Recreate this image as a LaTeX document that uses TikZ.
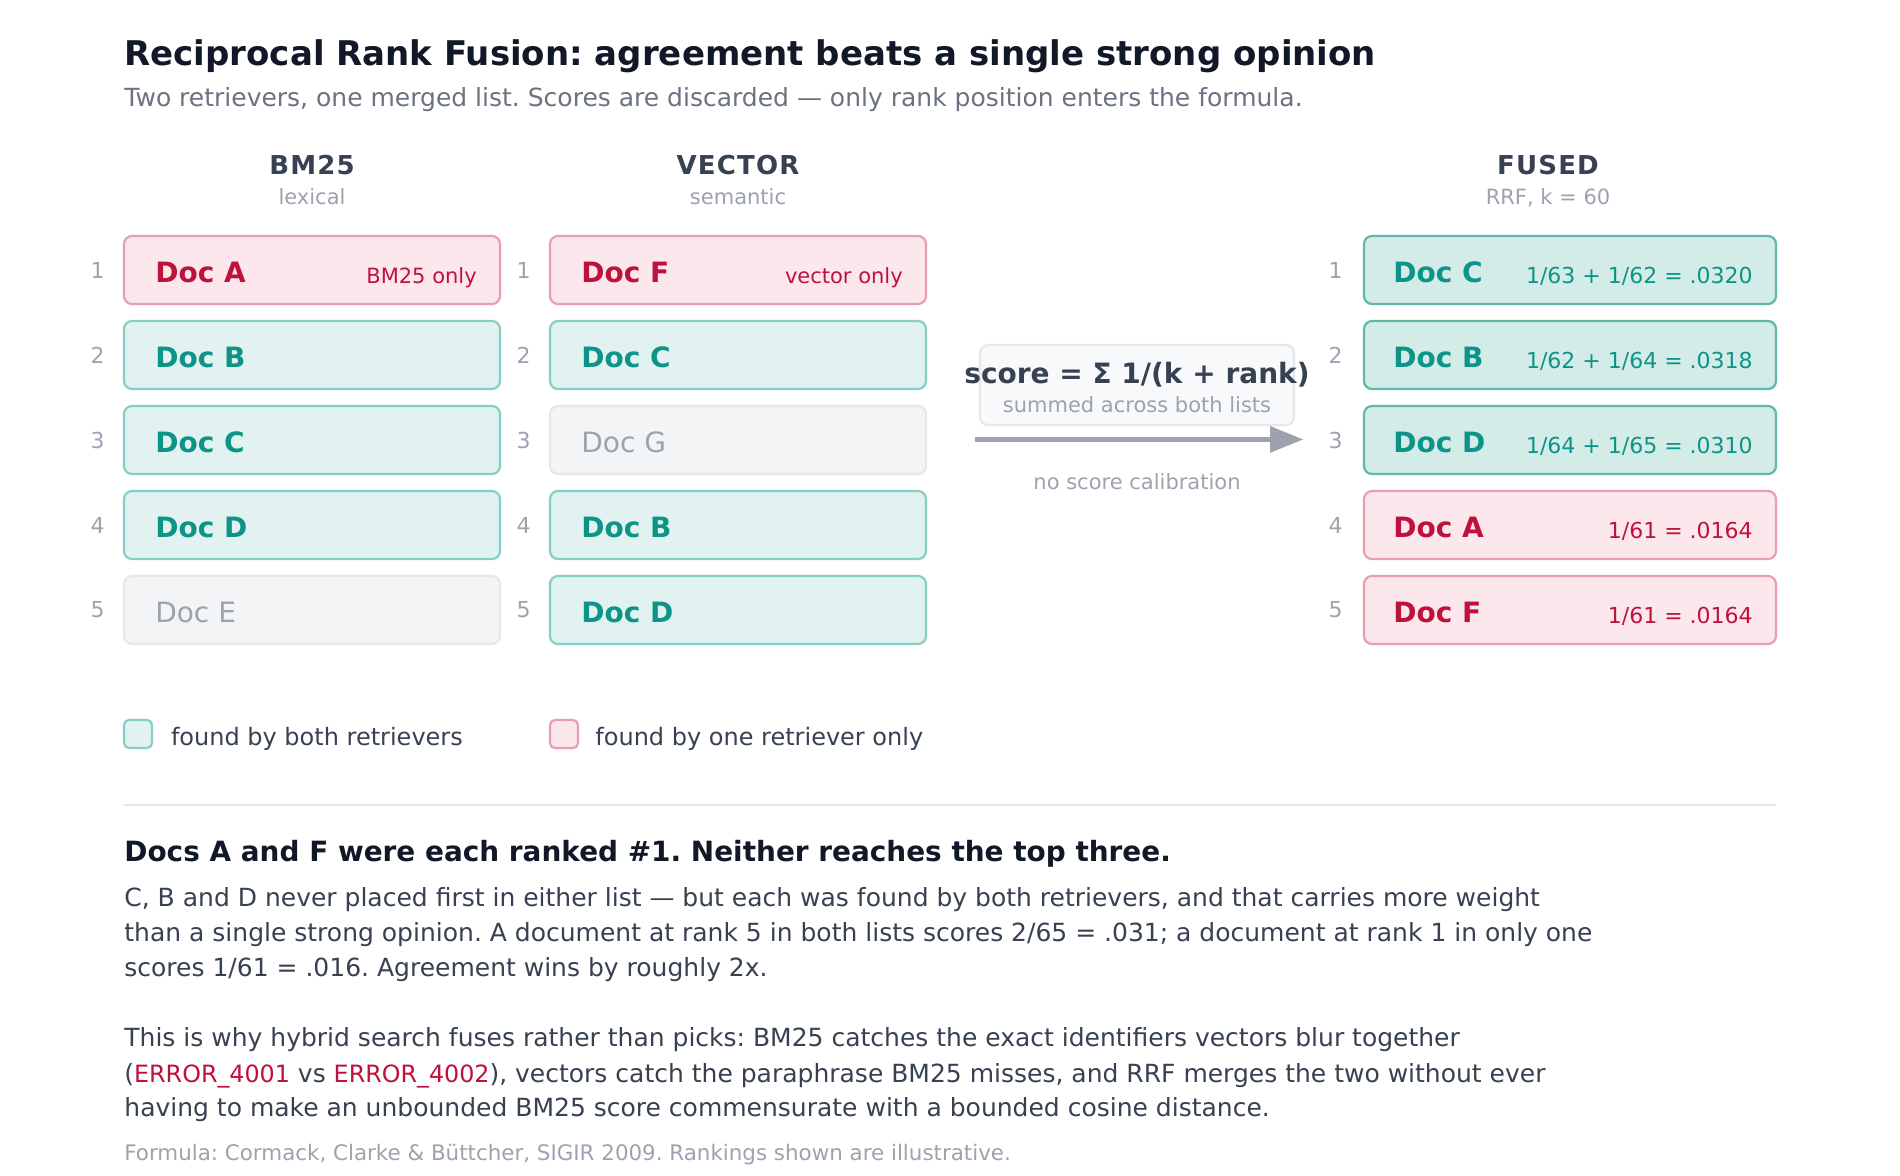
\documentclass[tikz,border=0pt]{standalone}
\usepackage{fontspec}
\setmainfont{DejaVu Sans}
\newfontfamily\headfont[LetterSpace=4.5]{DejaVu Sans}
\usetikzlibrary{positioning,arrows.meta}
\definecolor{ink}{HTML}{111827}
\definecolor{slate}{HTML}{374151}
\definecolor{mute}{HTML}{6B7280}
\definecolor{faint}{HTML}{9CA3AF}
\definecolor{rosetxt}{HTML}{BE123C}
\definecolor{rosefill}{HTML}{FCE7EC}
\definecolor{roseline}{HTML}{E8A0B0}
\definecolor{tealtxt}{HTML}{0D9488}
\definecolor{tealfill}{HTML}{E1F2F0}
\definecolor{tealline}{HTML}{86CFC4}
\definecolor{fusfill}{HTML}{D3ECE8}
\definecolor{fusline}{HTML}{5FB8AA}
\definecolor{greyfill}{HTML}{F3F4F6}
\definecolor{greyline}{HTML}{E5E7EB}
\definecolor{boxfill}{HTML}{F8F9FA}
\newcommand\fsz[2]{\fontsize{#1}{#2}\selectfont}
\newcommand\errcode[1]{{\color{rosetxt}\fsz{11.9}{15}#1}}
\frenchspacing
\begin{document}
\begin{tikzpicture}[x=1pt,y=-1pt,
 docbox/.style={shape=rectangle,rounded corners=4pt,line width=1.1pt,minimum width=188pt,minimum height=34pt,inner sep=0pt},
 boxboth/.style={docbox,draw=tealline,fill=tealfill},
 boxone/.style={docbox,draw=roseline,fill=rosefill},
 boxmiss/.style={docbox,draw=greyline,fill=greyfill},
 fusboth/.style={boxboth,draw=fusline,fill=fusfill,minimum width=206pt},
 fusone/.style={boxone,minimum width=206pt},
 ranknum/.style={inner sep=0pt,text=faint,font=\fsz{11}{13}},
 doclbl/.style={inner sep=0pt,yshift=-1pt,font=\bfseries\fsz{14}{17}},
 gonelbl/.style={inner sep=0pt,yshift=-1pt,text=faint,font=\fsz{14}{17}},
 tagtxt/.style={inner sep=0pt,anchor=base east,text=rosetxt,font=\fsz{10.5}{13}},
 scoretxt/.style={inner sep=0pt,anchor=base east,font=\fsz{11}{13}},
 colhead/.style={inner sep=0pt,anchor=base,text=slate,font=\headfont\bfseries\fsz{13}{16}},
 colsub/.style={inner sep=0pt,anchor=base,text=faint,font=\fsz{10.5}{13}},
 bodyline/.style={inner sep=0pt,anchor=base west,text=slate,font=\fsz{12.5}{15}},
 keybox/.style={shape=rectangle,rounded corners=2.5pt,line width=1.1pt,minimum size=14pt,inner sep=0pt},
 flow/.style={draw=faint,line width=2.5pt,-{Triangle[length=16.7pt,width=12.7pt]}}]
 \fill[white] (0,0) rectangle (950,587.5);
 \useasboundingbox (0,0) rectangle (950,587.5);
 % title
 \node (title) at (62,32.5) [inner sep=0pt,anchor=base west,text=ink,font=\bfseries\fsz{17}{20}] {Reciprocal Rank Fusion: agreement beats a single strong opinion};
 \node (subtitle) at (62,53) [inner sep=0pt,anchor=base west,text=mute,font=\fsz{12.5}{15}] {Two retrievers, one merged list. Scores are discarded — only rank position enters the formula.};
 % column heads
 \node (bm head) at (156,87.2) [colhead] {BM25};
 \node (bm sub) at (156,102.2) [colsub] {lexical};
 \node (vec head) at (369,87.2) [colhead] {VECTOR};
 \node (vec sub) at (369,102.2) [colsub] {semantic};
 \node (fus head) at (774,87.2) [colhead] {FUSED};
 \node (fus sub) at (774,102.2) [colsub] {RRF, k = 60};
 % BM25 list
 \node (bm 1) at (156,135) [boxone] {};
 \node (bm 2) at (156,177.5) [boxboth] {};
 \node (bm 3) at (156,220) [boxboth] {};
 \node (bm 4) at (156,262.5) [boxboth] {};
 \node (bm 5) at (156,305) [boxmiss] {};
 \node (bm 1 num) [ranknum,left=9pt of bm 1.west] {1};
 \node (bm 2 num) [ranknum,left=9pt of bm 2.west] {2};
 \node (bm 3 num) [ranknum,left=9pt of bm 3.west] {3};
 \node (bm 4 num) [ranknum,left=9pt of bm 4.west] {4};
 \node (bm 5 num) [ranknum,left=9pt of bm 5.west] {5};
 \node (bm 1 lbl) [doclbl,text=rosetxt,right=16pt of bm 1.west] {Doc A};
 \node (bm 2 lbl) [doclbl,text=tealtxt,right=16pt of bm 2.west] {Doc B};
 \node (bm 3 lbl) [doclbl,text=tealtxt,right=16pt of bm 3.west] {Doc C};
 \node (bm 4 lbl) [doclbl,text=tealtxt,right=16pt of bm 4.west] {Doc D};
 \node (bm 5 lbl) [gonelbl,right=16pt of bm 5.west] {Doc E};
 \node (bm 1 tag) at ([xshift=-12pt,yshift=-6.7pt]bm 1.east) [tagtxt] {BM25 only};
 % vector list
 \node (vec 1) at (369,135) [boxone] {};
 \node (vec 2) at (369,177.5) [boxboth] {};
 \node (vec 3) at (369,220) [boxmiss] {};
 \node (vec 4) at (369,262.5) [boxboth] {};
 \node (vec 5) at (369,305) [boxboth] {};
 \node (vec 1 num) [ranknum,left=9pt of vec 1.west] {1};
 \node (vec 2 num) [ranknum,left=9pt of vec 2.west] {2};
 \node (vec 3 num) [ranknum,left=9pt of vec 3.west] {3};
 \node (vec 4 num) [ranknum,left=9pt of vec 4.west] {4};
 \node (vec 5 num) [ranknum,left=9pt of vec 5.west] {5};
 \node (vec 1 lbl) [doclbl,text=rosetxt,right=16pt of vec 1.west] {Doc F};
 \node (vec 2 lbl) [doclbl,text=tealtxt,right=16pt of vec 2.west] {Doc C};
 \node (vec 3 lbl) [gonelbl,right=16pt of vec 3.west] {Doc G};
 \node (vec 4 lbl) [doclbl,text=tealtxt,right=16pt of vec 4.west] {Doc B};
 \node (vec 5 lbl) [doclbl,text=tealtxt,right=16pt of vec 5.west] {Doc D};
 \node (vec 1 tag) at ([xshift=-12pt,yshift=-6.7pt]vec 1.east) [tagtxt] {vector only};
 % formula
 \node (rrf box) at (568.5,192.5) [shape=rectangle,draw=greyline,fill=boxfill,rounded corners=4pt,line width=1.1pt,minimum width=157pt,minimum height=40pt] {};
 \node (rrf) at (568.5,191.7) [inner sep=0pt,anchor=base,text=slate,font=\bfseries\fsz{14}{17}] {score = Σ 1/(k + rank)};
 \node (rrf sub) at (568.5,206.3) [colsub] {summed across both lists};
 \coordinate (arr a) at (487.5,219.7);
 \coordinate (arr b) at (651.7,219.7);
 \draw [flow] (arr a) -- (arr b);
 \node (rrf note) at (568.5,244.5) [colsub] {no score calibration};
 % fused list
 \node (fus 1) at (785,135) [fusboth] {};
 \node (fus 2) at (785,177.5) [fusboth] {};
 \node (fus 3) at (785,220) [fusboth] {};
 \node (fus 4) at (785,262.5) [fusone] {};
 \node (fus 5) at (785,305) [fusone] {};
 \node (fus 1 num) [ranknum,left=10pt of fus 1.west] {1};
 \node (fus 2 num) [ranknum,left=10pt of fus 2.west] {2};
 \node (fus 3 num) [ranknum,left=10pt of fus 3.west] {3};
 \node (fus 4 num) [ranknum,left=10pt of fus 4.west] {4};
 \node (fus 5 num) [ranknum,left=10pt of fus 5.west] {5};
 \node (fus 1 lbl) [doclbl,text=tealtxt,right=15pt of fus 1.west] {Doc C};
 \node (fus 2 lbl) [doclbl,text=tealtxt,right=15pt of fus 2.west] {Doc B};
 \node (fus 3 lbl) [doclbl,text=tealtxt,right=15pt of fus 3.west] {Doc D};
 \node (fus 4 lbl) [doclbl,text=rosetxt,right=15pt of fus 4.west] {Doc A};
 \node (fus 5 lbl) [doclbl,text=rosetxt,right=15pt of fus 5.west] {Doc F};
 \node (fus 1 sc) at ([xshift=-12pt,yshift=-6.7pt]fus 1.east) [scoretxt,text=tealtxt] {1/63 + 1/62 = .0320};
 \node (fus 2 sc) at ([xshift=-12pt,yshift=-6.7pt]fus 2.east) [scoretxt,text=tealtxt] {1/62 + 1/64 = .0318};
 \node (fus 3 sc) at ([xshift=-12pt,yshift=-6.7pt]fus 3.east) [scoretxt,text=tealtxt] {1/64 + 1/65 = .0310};
 \node (fus 4 sc) at ([xshift=-12pt,yshift=-6.7pt]fus 4.east) [scoretxt,text=rosetxt] {1/61 = .0164};
 \node (fus 5 sc) at ([xshift=-12pt,yshift=-6.7pt]fus 5.east) [scoretxt,text=rosetxt] {1/61 = .0164};
 % legend
 \node (key both) at (69,367) [keybox,draw=tealline,fill=tealfill] {};
 \node (key both txt) at (85.3,372.5) [bodyline,font=\fsz{12}{14}] {found by both retrievers};
 \node (key one) at (282,367) [keybox,draw=roseline,fill=rosefill] {};
 \node (key one txt) at (297.5,372.5) [bodyline,font=\fsz{12}{14}] {found by one retriever only};
 \draw [greyline,line width=1pt] (62,402.3) -- (888,402.3);
 % takeaway
 \node (take) at (62,430.5) [inner sep=0pt,anchor=base west,text=ink,font=\bfseries\fsz{13.95}{17}] {Docs A and F were each ranked \#1. Neither reaches the top three.};
 \node (body 1) at (62,453.2) [bodyline] {C, B and D never placed first in either list — but each was found by both retrievers, and that carries more weight};
 \node (body 2) at (62,470.8) [bodyline] {than a single strong opinion. A document at rank 5 in both lists scores 2/65 = .031; a document at rank 1 in only one};
 \node (body 3) at (62,488.3) [bodyline] {scores 1/61 = .016. Agreement wins by roughly 2x.};
 \node (body 4) at (62,523.2) [bodyline] {This is why hybrid search fuses rather than picks: BM25 catches the exact identifiers vectors blur together};
 \node (body 5) at (62,541) [bodyline] {(\errcode{ERROR\_4001} vs \errcode{ERROR\_4002}), vectors catch the paraphrase BM25 misses, and RRF merges the two without ever};
 \node (body 6) at (62,558.2) [bodyline] {having to make an unbounded BM25 score commensurate with a bounded cosine distance.};
 \node (foot) at (62,580.4) [inner sep=0pt,anchor=base west,text=faint,font=\fsz{10.7}{13}] {Formula: Cormack, Clarke \& Büttcher, SIGIR 2009. Rankings shown are illustrative.};
\end{tikzpicture}
\end{document}
